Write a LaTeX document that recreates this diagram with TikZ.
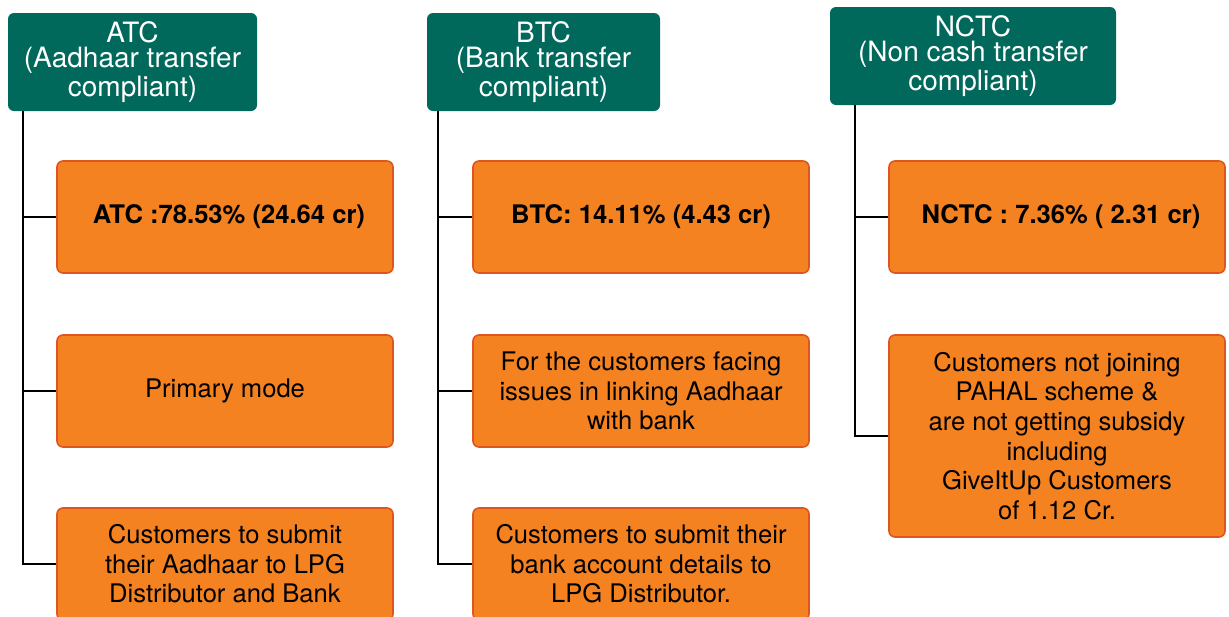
\documentclass[tikz,border=0pt]{standalone}
\usepackage{fontspec}
\setmainfont{TeX Gyre Heros}
\definecolor{headgreen}{HTML}{00695C}
\definecolor{boxorange}{HTML}{F58220}
\definecolor{boxedge}{HTML}{DD5522}
\begin{document}
\begin{tikzpicture}[x=0.5pt,y=-0.5pt,
  head/.style={fill=headgreen, text=white, rounded corners=3pt, align=center,
    font=\fontsize{14}{12.5}\selectfont, minimum height=49pt, inner sep=0pt},
  item/.style={fill=boxorange, draw=boxedge, line width=0.8pt, rounded corners=3pt,
    align=center, font=\fontsize{12.8}{14.8}\selectfont, minimum width=168pt,
    minimum height=56pt, inner sep=0pt},
  link/.style={line width=1pt}]
 \useasboundingbox (0,0) rectangle (1229,616);

 \node[head, minimum width=124.5pt] (atc) at (132.5,62) {ATC\\(Aadhaar transfer\\compliant)};
 \node[head, minimum width=116.5pt] (btc) at (543.5,62) {BTC\\(Bank transfer\\compliant)};
 \node[head, minimum width=143pt] (nctc) at (973,56) {NCTC\\(Non cash transfer\\compliant)};

 \node[item, font=\fontsize{12.8}{14.8}\bfseries] (atcshare) at (225,217) {\hspace{4pt}ATC :78.53\% (24.64 cr)};
 \node[item] (atcmode) at (225,391) {Primary mode};
 \node[item] (atcsubmit) at (225,564) {Customers to submit\\their Aadhaar to LPG\\Distributor and Bank};

 \node[item, font=\fontsize{12.8}{14.8}\bfseries] (btcshare) at (641,217) {BTC: 14.11\% (4.43 cr)};
 \node[item] (btcissue) at (641,391) {For the customers facing\\issues in linking Aadhaar\\with bank};
 \node[item] (btcsubmit) at (641,564) {Customers to submit their\\bank account details to\\LPG Distributor.};

 \node[item, font=\fontsize{12.8}{14.8}\bfseries] (nctcshare) at (1057,217) {\hspace{4pt}NCTC : 7.36\% ( 2.31 cr)};
 \node[item, minimum height=101pt] (nctcother) at (1057,436) {Customers not joining\\PAHAL scheme \&\\are not getting subsidy\\including\\GiveItUp Customers\\of 1.12 Cr.};

 \coordinate (atrunk) at (23,111);
 \coordinate (btrunk) at (438,111);
 \coordinate (ntrunk) at (855,105);

 \draw [link] (atrunk) |- (atcsubmit.west);
 \draw [link] (atcshare.west) -- (atcshare.west -| atrunk);
 \draw [link] (atcmode.west) -- (atcmode.west -| atrunk);

 \draw [link] (btrunk) |- (btcsubmit.west);
 \draw [link] (btcshare.west) -- (btcshare.west -| btrunk);
 \draw [link] (btcissue.west) -- (btcissue.west -| btrunk);

 \draw [link] (ntrunk) |- (nctcother.west);
 \draw [link] (nctcshare.west) -- (nctcshare.west -| ntrunk);
\end{tikzpicture}
\end{document}
